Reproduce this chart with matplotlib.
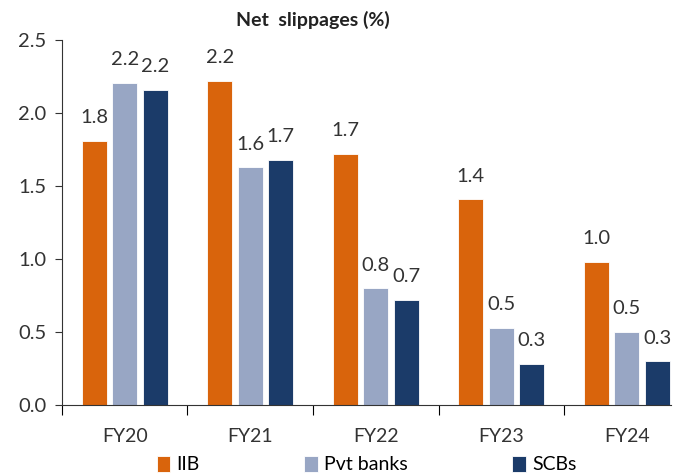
import matplotlib.pyplot as plt
import numpy as np

plt.rcParams['font.family'] = ['Lato', 'DejaVu Sans']

years = ["FY20", "FY21", "FY22", "FY23", "FY24"]
series = ["IIB", "Pvt banks", "SCBs"]
iib = [1.81, 2.22, 1.72, 1.41, 0.98]
pvt = [2.21, 1.63, 0.80, 0.53, 0.50]
scb = [2.16, 1.68, 0.72, 0.28, 0.30]
colors = ["#d9640c", "#98a6c4", "#1b3b69"]

fig = plt.figure(figsize=(6.81, 4.73), dpi=100)
ax = fig.add_axes([0.091, 0.144, 0.894, 0.771])

x = np.arange(len(years))
w = 0.2
step = 0.243
for i, (vals, name) in enumerate(zip([iib, pvt, scb], series)):
    pos = x + (i - 1) * step
    bars = ax.bar(pos, vals, width=w, color=colors[i], label=name,
                  edgecolor="white", linewidth=0.6)
    for b, v in zip(bars, vals):
        ax.text(b.get_x() + b.get_width() / 2, v + 0.1, f"{v:.1f}",
                ha="center", va="bottom", fontsize=14.5, color="#333333")

ax.set_xlim(-0.5, 4.35)
ax.set_ylim(0, 2.5)
ax.set_yticks(np.arange(0, 2.51, 0.5))
ax.set_yticklabels([f"{t:.1f}" for t in np.arange(0, 2.51, 0.5)])
ax.set_xticks(x)
ax.set_xticklabels(years)
ax.set_xticks(np.arange(-0.5, 4.5, 1), minor=True)
ax.tick_params(axis="x", which="major", length=0, pad=17, labelsize=14, colors="#333333")
ax.tick_params(axis="x", which="minor", length=7, width=0.8, direction="out")
ax.tick_params(axis="y", length=5, width=0.8, labelsize=14.5, colors="#333333", pad=6)
for s in ["top", "right"]:
    ax.spines[s].set_visible(False)
for s in ["left", "bottom"]:
    ax.spines[s].set_linewidth(0.8)
    ax.spines[s].set_color("#333333")

fig.text(313 / 681, 1 - 20 / 473, "Net  slippages (%)", fontsize=14, fontweight="bold",
         ha="center", va="center", color="#222222")

ax.legend(loc="upper center", bbox_to_anchor=(0.5, -0.118), ncol=3, frameon=False,
          fontsize=14, handlelength=0.7, handleheight=0.9, handletextpad=0.3,
          columnspacing=5.4, borderaxespad=0)

fig.savefig("out.png", dpi=100)
